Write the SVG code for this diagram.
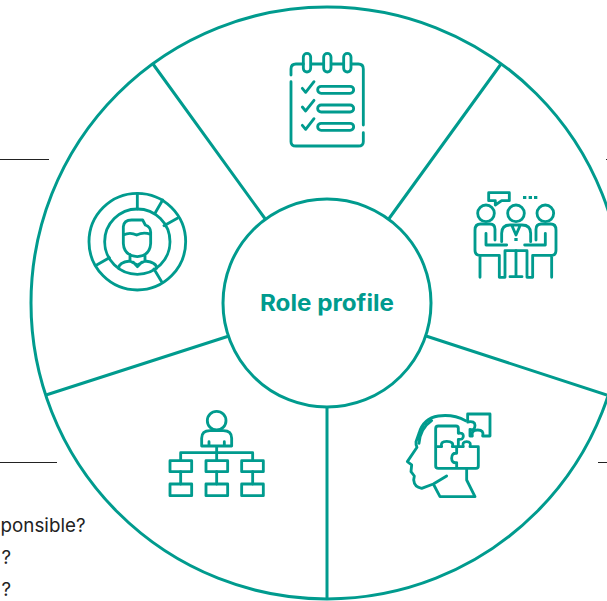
<svg xmlns="http://www.w3.org/2000/svg" width="607" height="601" viewBox="0 0 607 601">
<style>
.w{fill:none;stroke:#009b8e;stroke-width:3}
.i{fill:none;stroke:#009b8e;stroke-width:8.500;stroke-linecap:round;stroke-linejoin:round}
.k{stroke:#222;stroke-width:1;fill:none}
.t{font-family:"Inter","Liberation Sans",sans-serif;font-size:18.800px;fill:#222}
</style>
<rect width="607" height="601" fill="#fff"/>
<g id="connectors">
<circle class="w" cx="327" cy="303" r="296"/>
<path class="w" d="M153 64L266 220M501 64L388 220M46 395L229 336M607 395L426 336M327 408V600"/>
<path class="k" d="M0 159.500H49M0 462.500H57M606 159.500H607M598 462.500H607"/>
</g>
<g id="node-center">
<circle cx="327" cy="303" r="104" fill="#fff" stroke="#009b8e" stroke-width="3"/>
<text x="327" y="311" text-anchor="middle" font-family="Inter,'Liberation Sans',sans-serif" font-size="22.500" font-weight="700" fill="#009b8e" textLength="134" lengthAdjust="spacingAndGlyphs">Role profile</text>
</g>
<g id="node-checklist" transform="translate(260 30) scale(.3333)">
<path class="i" d="M130 102H108Q93 102 93 117V135M93 155V335Q93 348 108 348H295Q310 348 310 335V308M310 285V117Q310 102 295 102H275M155 102H188M215 102H248"/>
<rect class="i" x="130" y="70" width="22" height="56" rx="11"/>
<rect class="i" x="191" y="70" width="22" height="56" rx="11"/>
<rect class="i" x="251" y="70" width="22" height="56" rx="11"/>
<rect class="i" x="173" y="169" width="108" height="21" rx="10.500"/>
<rect class="i" x="173" y="225" width="108" height="21" rx="10.500"/>
<rect class="i" x="173" y="280" width="108" height="21" rx="10.500"/>
<path class="i" d="M127 175L137 187L162 155M127 231L137 243L162 211M127 286L137 298L162 266"/>
</g>
<g id="node-meeting" transform="translate(460 180) scale(.3333)">
<circle class="i" cx="78" cy="100" r="25"/><circle class="i" cx="168" cy="100" r="25"/><circle class="i" cx="256" cy="100" r="25"/>
<path class="i" d="M86 38H148V62H125L106 75V62H86Z"/>
<path d="M189 48h10v9h-10zM206 48h10v9h-10zM222 48h10v9h-10z" fill="#009b8e"/>
<path class="i" d="M105 180V148Q105 132 90 132H62Q45 132 45 150V210Q45 226 60 226V292M60 226H118V292H135V212M78 160V195H140M135 212H201V292M201 292H218V226H275V292M275 226Q288 226 288 210V150Q288 132 272 132H244Q228 132 228 148V180M256 160V195H194"/>
<path class="i" d="M125 185V160Q125 135 150 135H186Q212 135 212 160V185M155 135L168 165L181 135M168 212V290M150 290H186"/>
<path d="M163 174h10v9h-10z" fill="#009b8e"/>
</g>
<g id="node-puzzle-head" transform="translate(395 400) scale(.3333)">
<path class="i" d="M212 62Q175 42 130 48Q85 55 72 100L63 125Q62 135 66 142L37 185L50 195L48 215L58 228L56 240Q58 262 80 265L115 252L155 228M115 252L135 290H240L215 240V205M72 130Q76 85 110 62"/>
<path class="i" d="M190 100V85Q190 78 183 78H130Q122 78 122 86V198Q122 205 130 205H243Q250 205 250 198V140H225Q230 125 215 125Q200 125 205 140H172Q178 124 155 124Q135 124 140 140H122M185 140V160Q170 158 170 175Q170 190 185 188V205M190 100Q205 97 205 108Q205 120 190 118V140"/>
<path class="i" d="M218 42H285V108H263Q268 90 248 90Q228 90 232 108H225V88Q240 92 240 76Q240 62 218 66Z"/>
</g>
<g id="node-org-chart" transform="translate(160 400) scale(.3333)">
<circle class="i" cx="170" cy="62" r="28"/>
<path class="i" d="M125 138V115Q125 92 150 92H190Q215 92 215 115V138ZM147 125V138M193 125V138M170 138V182M62 182V158H278V182M62 215V252M170 215V252M278 215V252"/>
<rect class="i" x="30" y="182" width="65" height="33"/><rect class="i" x="138" y="182" width="65" height="33"/><rect class="i" x="245" y="182" width="65" height="33"/>
<rect class="i" x="30" y="252" width="65" height="35"/><rect class="i" x="138" y="252" width="65" height="35"/><rect class="i" x="245" y="252" width="65" height="35"/>
</g>
<g id="node-profile" transform="translate(80 185) scale(.3333)">
<circle class="i" cx="172" cy="170" r="145"/><circle class="i" cx="172" cy="170" r="98"/>
<path class="i" d="M172 25V72M248 45L225 85M292 100L252 122M245 290L222 252M50 240L88 218"/>
<path class="i" d="M130 150V125Q132 105 155 105H188L196 120Q212 125 212 142V175Q210 212 172 215Q132 212 130 175V150Q150 140 170 150Q190 140 212 148M150 208V228M195 208V228M116 250Q116 232 150 228L172 240L195 228Q230 232 230 250M160 232L172 245L185 232"/>
</g>
<g id="node-text">
<text class="t" x="85.500" y="532" text-anchor="end">ponsible?</text>
<text class="t" x="11" y="564" text-anchor="end">?</text>
<text class="t" x="11" y="596" text-anchor="end">?</text>
</g>
</svg>
